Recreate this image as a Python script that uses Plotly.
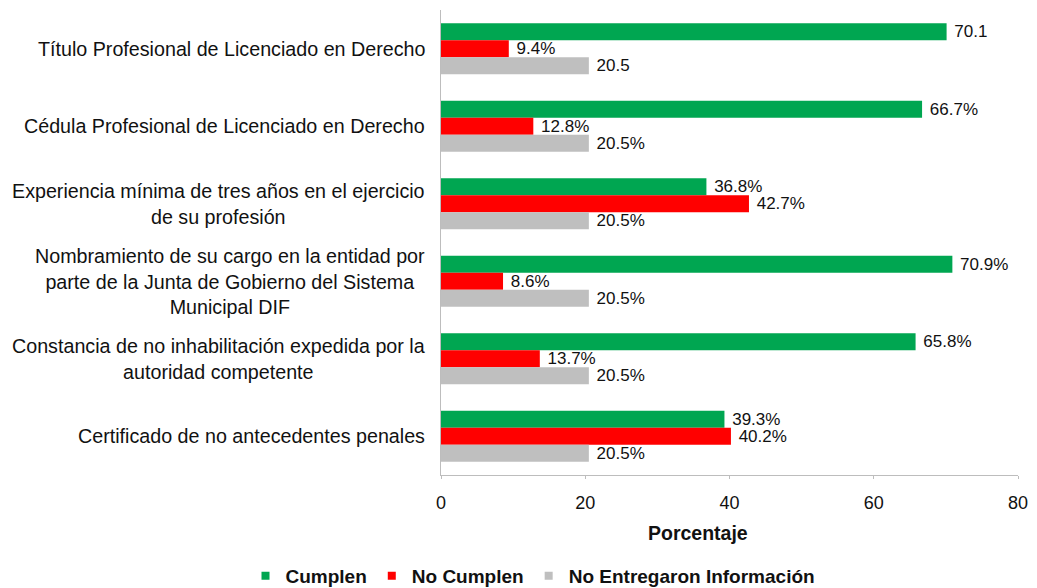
import plotly.graph_objects as go

# Requisitos evaluados (de arriba hacia abajo)
categorias = [
    "Título Profesional de Licenciado en Derecho",
    "Cédula Profesional de Licenciado en Derecho",
    "Experiencia mínima de tres años en el ejercicio<br>de su profesión",
    "Nombramiento de su cargo en la entidad por<br>parte de la Junta de Gobierno del Sistema<br>Municipal DIF",
    "Constancia de no inhabilitación expedida por la<br>autoridad competente",
    "Certificado de no antecedentes penales",
]
claves = ["r1", "r2", "r3", "r4", "r5", "r6"]

cumplen = [70.1, 66.7, 36.8, 70.9, 65.8, 39.3]
no_cumplen = [9.4, 12.8, 42.7, 8.6, 13.7, 40.2]
no_entregaron = [20.5, 20.5, 20.5, 20.5, 20.5, 20.5]

etiquetas_cumplen = ["70.1", "66.7%", "36.8%", "70.9%", "65.8%", "39.3%"]
etiquetas_no_cumplen = ["9.4%", "12.8%", "42.7%", "8.6%", "13.7%", "40.2%"]
etiquetas_no_entregaron = ["20.5", "20.5%", "20.5%", "20.5%", "20.5%", "20.5%"]

ticks_x = [0, 20, 40, 60, 80]

FONT = "Liberation Sans, Arial, sans-serif"
VERDE = "#00A651"
ROJO = "#FF0000"
GRIS = "#BFBFBF"
TEXTO = "#111111"

W, H = 1037, 588
ML, MR, MT, MB = 441, 19, 10, 113
PW, PH = W - ML - MR, H - MT - MB

fig = go.Figure()
series = [
    ("Cumplen", cumplen, etiquetas_cumplen, VERDE),
    ("No Cumplen", no_cumplen, etiquetas_no_cumplen, ROJO),
    ("No Entregaron Información", no_entregaron, etiquetas_no_entregaron, GRIS),
]
for nombre, valores, textos, color in series:
    fig.add_trace(go.Bar(
        y=claves, x=valores, orientation="h", name=nombre,
        marker=dict(color=color, line=dict(width=0)),
        text=textos, texttemplate="\u00a0%{text}",
        textposition="outside", cliponaxis=False, constraintext="none",
        textfont=dict(family=FONT, size=17, color=TEXTO),
        showlegend=False,
    ))

# Leyenda con marcadores cuadrados pequeños
for nombre, _, _, color in series:
    fig.add_trace(go.Scatter(
        x=[None], y=[None], mode="markers", name=nombre,
        marker=dict(symbol="square", size=8, color=color),
        showlegend=True, hoverinfo="skip",
    ))

# Etiquetas de categoría centradas, a la izquierda del eje
for clave, texto in zip(claves, categorias):
    fig.add_annotation(
        x=0, xref="paper", xanchor="right", xshift=-14,
        y=clave, yref="y", yanchor="middle",
        text=texto, align="center", showarrow=False,
        font=dict(family=FONT, size=19.7, color=TEXTO),
    )

# Título del eje horizontal
fig.add_annotation(
    x=(698 - ML) / PW, xref="paper", xanchor="center",
    y=(H - MB - 533) / PH, yref="paper", yanchor="middle",
    text="<b>Porcentaje</b>", showarrow=False,
    font=dict(family=FONT, size=19.5, color=TEXTO),
)

fig.update_layout(
    width=W, height=H,
    margin=dict(l=ML, r=MR, t=MT, b=MB, autoexpand=False),
    paper_bgcolor="white", plot_bgcolor="white",
    barmode="group", bargap=0.34, bargroupgap=0,
    showlegend=True,
    legend=dict(
        orientation="h", xref="container", yref="container",
        x=533 / W, xanchor="center", y=(H - 576) / H, yanchor="middle",
        font=dict(family=FONT, size=19, color=TEXTO, weight="bold"),
        itemwidth=30, traceorder="normal", tracegroupgap=0,
        bgcolor="rgba(0,0,0,0)",
    ),
    font=dict(family=FONT, color=TEXTO),
)

fig.update_xaxes(
    range=[0, 80], tickvals=ticks_x, showgrid=False, zeroline=False,
    showline=True, linecolor="#BDBDBD", linewidth=1,
    ticks="outside", ticklen=3, tickcolor="#BDBDBD", ticklabelstandoff=8,
    tickfont=dict(family=FONT, size=18, color=TEXTO),
)
fig.update_yaxes(
    autorange="reversed", showticklabels=False, showgrid=False, zeroline=False,
    showline=True, linecolor="#BDBDBD", linewidth=1, ticks="",
)

fig.write_html("out.html")
